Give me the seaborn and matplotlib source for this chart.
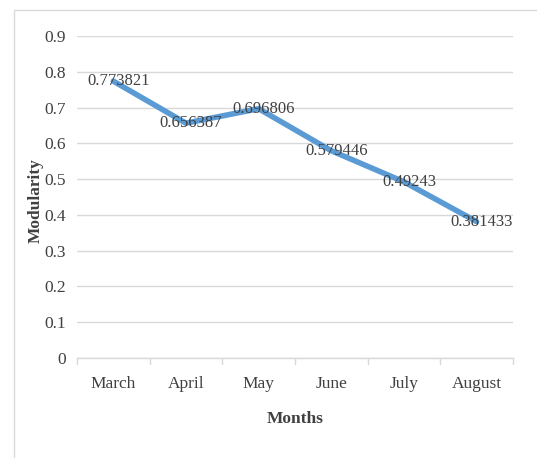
import matplotlib
matplotlib.use("Agg")
import matplotlib.pyplot as plt
import seaborn as sns
import pandas as pd

# данные с графика
months = ["March", "April", "May", "June", "July", "August"]
modularity = [0.773821, 0.656387, 0.696806, 0.579446, 0.49243, 0.381433]
label_text = ["0.773821", "0.656387", "0.696806", "0.579446", "0.49243", "0.381433"]
y_ticks = [0, 0.1, 0.2, 0.3, 0.4, 0.5, 0.6, 0.7, 0.8, 0.9]
y_tick_labels = ["0", "0.1", "0.2", "0.3", "0.4", "0.5", "0.6", "0.7", "0.8", "0.9"]

df = pd.DataFrame({"Months": months, "Modularity": modularity})

sns.set_style("white")
plt.rcParams["font.family"] = ["Liberation Serif", "DejaVu Serif"]

text_col = "#404040"
grid_col = "#d9d9d9"

fig = plt.figure(figsize=(5.37, 4.58), dpi=100)
ax = fig.add_axes([0.1434, 0.2183, 0.8116, 0.7031])

# рамка области диаграммы как в Excel
frame = plt.Rectangle((14 / 537, -0.1), 1.2, (458 - 10) / 458 + 0.1,
                      transform=fig.transFigure, fill=False,
                      edgecolor="#d9d9d9", linewidth=1.0, zorder=0)
fig.patches.append(frame)

x_pos = list(range(len(months)))
sns.lineplot(x=x_pos, y=df["Modularity"], ax=ax, color="#5b9bd5",
             linewidth=4, solid_capstyle="round", zorder=3)

for xi, yi, txt in zip(x_pos, modularity, label_text):
    ax.text(xi + 0.07, yi, txt, ha="center", va="center",
            fontsize=12, color=text_col, zorder=4)

ax.set_xlim(-0.5, len(months) - 0.5)
ax.set_ylim(0, 0.9)
ax.set_yticks(y_ticks)
ax.set_yticklabels(y_tick_labels)
ax.set_xticks(x_pos)
ax.set_xticklabels(months)
ax.tick_params(axis="y", length=0, labelsize=12.5, colors=text_col, pad=8)
ax.tick_params(axis="x", length=0, labelsize=12.5, colors=text_col, pad=13)

ax.grid(axis="y", color=grid_col, linewidth=1)
ax.set_axisbelow(True)
for side in ["top", "right", "left"]:
    ax.spines[side].set_visible(False)
ax.spines["bottom"].set_color(grid_col)
ax.spines["bottom"].set_linewidth(1)

# маленькие засечки между категориями
for b in [i - 0.5 for i in range(len(months) + 1)]:
    ax.plot([b, b], [0, -0.018], color=grid_col, linewidth=1,
            clip_on=False, zorder=1)

ax.set_xlabel("Months", fontsize=12.5, fontweight="bold", color=text_col)
ax.set_ylabel("Modularity", fontsize=12.5, fontweight="bold", color=text_col)
ax.xaxis.set_label_coords(0.5, -0.165)
ax.yaxis.set_label_coords(-0.076, 0.49)

fig.savefig("out.png", dpi=100)
